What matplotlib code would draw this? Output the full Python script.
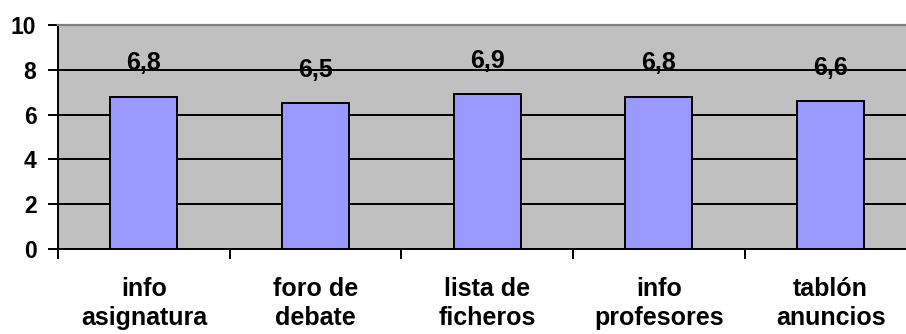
import numpy as np
import matplotlib.pyplot as plt

plt.rcParams['font.family'] = ['Liberation Sans', 'DejaVu Sans']
plt.rcParams['font.weight'] = 'bold'

categories = ['info\nasignatura', 'foro de\ndebate', 'lista de\nficheros',
              'info\nprofesores', 'tablón\nanuncios']
scores = [6.8, 6.5, 6.9, 6.8, 6.6]
score_labels = ['6,8', '6,5', '6,9', '6,8', '6,6']
y_ticks = [0, 2, 4, 6, 8, 10]

fig = plt.figure(figsize=(9.06, 3.34), dpi=100)
# plot area runs past the right edge of the figure
ax = fig.add_axes([58 / 906, 85 / 334, 858.5 / 906, 224 / 334])
ax.set_facecolor('#C0C0C0')

x = np.arange(len(categories))
bars = ax.bar(x, scores, width=0.39, color='#9999FF', edgecolor='black',
              linewidth=1.4, zorder=3)

for xi, val, lab in zip(x, scores, score_labels):
    ax.annotate(lab, (xi, val), xytext=(0, 19), textcoords='offset points',
                ha='center', va='baseline', fontsize=18, fontweight='bold',
                zorder=4)

ax.set_xlim(-0.5, len(categories) - 0.5)
ax.set_ylim(0, 10)
ax.set_yticks(y_ticks)
ax.set_yticklabels([str(t) for t in y_ticks])
ax.yaxis.grid(True, color='black', linewidth=1.4)
ax.set_axisbelow(True)

# category boundaries as ticks, names centred between them
ax.set_xticks(np.arange(-0.5, len(categories), 1.0))
ax.set_xticklabels([])
ax.set_xticks(x, minor=True)
ax.set_xticklabels(categories, minor=True, fontsize=18, fontweight='bold',
                   linespacing=1.25)
ax.tick_params(axis='x', which='minor', length=0, pad=20)
ax.tick_params(axis='x', which='major', length=7, width=1.4, direction='out')
ax.tick_params(axis='y', length=7, width=1.4, direction='out', pad=8.5,
               labelsize=16.5)

for s in ('left', 'bottom'):
    ax.spines[s].set_color('black')
    ax.spines[s].set_linewidth(1.4)
ax.spines['top'].set_color('#808080')
ax.spines['top'].set_linewidth(1.6)
ax.spines['right'].set_visible(False)

fig.savefig('out.png', dpi=100)
